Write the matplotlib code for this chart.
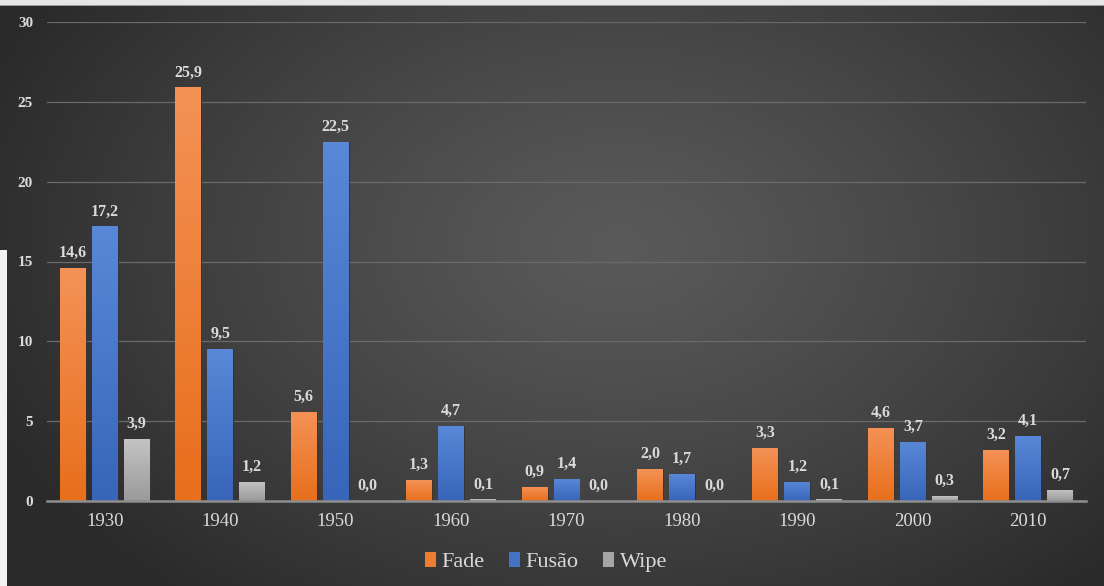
import numpy as np
import matplotlib
matplotlib.use("Agg")
import matplotlib.pyplot as plt
from matplotlib.patches import Patch
from matplotlib.colors import LinearSegmentedColormap, to_rgb

decades = ["1930", "1940", "1950", "1960", "1970", "1980", "1990", "2000", "2010"]
fade = [14.6, 25.9, 5.6, 1.3, 0.9, 2.0, 3.3, 4.6, 3.2]
fusao = [17.2, 9.5, 22.5, 4.7, 1.4, 1.7, 1.2, 3.7, 4.1]
wipe = [3.9, 1.2, 0.0, 0.1, 0.0, 0.0, 0.1, 0.3, 0.7]
series_names = ["Fade", "Fusão", "Wipe"]
yticks = [0, 5, 10, 15, 20, 25, 30]

plt.rcParams["font.family"] = ["Liberation Serif", "DejaVu Serif"]

# (top colour, bottom colour) for each series gradient
grad_colors = [("#F49256", "#E86F1C"), ("#5A88D8", "#3865B9"), ("#C4C4C4", "#9A9A9A")]
legend_colors = ["#ED7D31", "#4472C4", "#A5A5A5"]
text_color = "#DADADA"

W, H = 1104, 586
fig = plt.figure(figsize=(W / 100, H / 100), dpi=100)

# Radial dark-grey backdrop
bg = fig.add_axes([0, 0, 1, 1], zorder=-10)
yy, xx = np.mgrid[0:H, 0:W]
cx, cy = 0.56 * W, 0.42 * H
r = np.sqrt(((xx - cx) / (0.62 * W)) ** 2 + ((yy - cy) / (0.78 * H)) ** 2)
r = np.clip(r, 0, 1)
c_in = np.array(to_rgb("#5A5A5A"))
c_out = np.array(to_rgb("#2A2A2A"))
t = r[..., None] ** 1.2
img = c_in[None, None, :] * (1 - t) + c_out[None, None, :] * t
img[:5, :, :] = to_rgb("#E6E6E6")
img[5:6, :, :] = to_rgb("#9A9A9A")
img[250:, :7, :] = to_rgb("#F2F2F2")
bg.imshow(img, aspect="auto", extent=[0, W, H, 0], interpolation="bilinear")
bg.set_axis_off()

ax = fig.add_axes([47 / W, 1 - 501 / H, (1086 - 47) / W, (501 - 22) / H])
ax.set_facecolor("none")

x = np.arange(len(decades))
width = 0.225
offset = 0.277
data = [fade, fusao, wipe]

for k, vals in enumerate(data):
    top, bot = grad_colors[k]
    cmap = LinearSegmentedColormap.from_list(f"g{k}", [bot, top])
    bars = ax.bar(x + (k - 1) * offset, vals, width, color=legend_colors[k],
                  edgecolor="#2E2E2E", linewidth=0.6, zorder=3)
    for b, v in zip(bars, vals):
        if v > 0:
            x0, w_ = b.get_x(), b.get_width()
            grad = np.linspace(0, 1, 64).reshape(-1, 1)
            im = ax.imshow(grad, cmap=cmap, origin="lower", aspect="auto",
                           extent=[x0, x0 + w_, 0, v], zorder=3.5)
            im.set_clip_path(b)
        ax.annotate(f"{v:.1f}".replace(".", ","), (b.get_x() + b.get_width() / 2, v),
                    xytext=(0, 5), textcoords="offset points", ha="center", va="bottom",
                    color=text_color, fontsize=11.5, fontweight="bold", zorder=5)

ax.set_xlim(-0.5, len(decades) - 0.5)
ax.set_ylim(0, 30)

ax.set_yticks(yticks)
ax.set_yticklabels([str(v) for v in yticks], fontweight="bold",
                   fontsize=11, color=text_color)
ax.set_xticks(x)
ax.set_xticklabels(decades, fontsize=13.5, color=text_color)
ax.tick_params(axis="both", length=0)
ax.tick_params(axis="y", pad=10)
ax.tick_params(axis="x", pad=9)

ax.grid(axis="y", color="#6A6A6A", linewidth=0.9, zorder=0)
ax.set_axisbelow(True)
for s in ["top", "right", "left"]:
    ax.spines[s].set_visible(False)
ax.spines["bottom"].set_color("#8E8E8E")
ax.spines["bottom"].set_linewidth(1.8)
ax.spines["bottom"].set_zorder(6)

handles = [Patch(facecolor=c, edgecolor="none") for c in legend_colors]
leg = fig.legend(handles, series_names, loc="center", bbox_to_anchor=(546 / W, 1 - 562 / H),
                 ncol=3, frameon=False, handlelength=0.5, handleheight=0.7,
                 handletextpad=0.25, columnspacing=1.1,
                 prop={"size": 16})
for tx in leg.get_texts():
    tx.set_color(text_color)

fig.savefig("out.png", dpi=100)
